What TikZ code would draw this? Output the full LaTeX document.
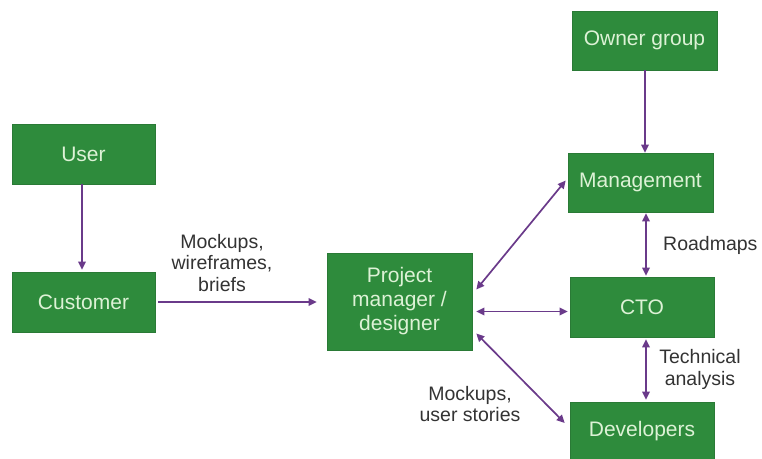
\documentclass[tikz,border=0pt]{standalone}
\usepackage{fontspec}
\setmainfont{Liberation Sans}
\usetikzlibrary{arrows.meta}
\definecolor{boxgreen}{HTML}{2E8B3C}
\definecolor{boxedge}{HTML}{2A7A36}
\definecolor{boxtext}{HTML}{DDF2D6}
\definecolor{arrowpurple}{HTML}{6A3A8A}
\definecolor{labelgrey}{HTML}{333333}
\begin{document}
\begin{tikzpicture}[x=1pt,y=-1pt,
  box/.style={draw=boxedge,line width=0.6pt,fill=boxgreen,text=boxtext,inner sep=0pt,
    align=center,font=\fontsize{21}{24}\selectfont},
  lbl/.style={text=labelgrey,align=center,inner sep=0pt,font=\fontsize{19.5}{21.5}\selectfont},
  arr/.style={draw=arrowpurple,line width=1.7pt,-{Triangle[length=8pt,width=7.5pt]}},
  darr/.style={draw=arrowpurple,line width=1.7pt,{Triangle[length=8pt,width=7.5pt]}-{Triangle[length=8pt,width=7.5pt]}}]
\useasboundingbox (0,0) rectangle (762,458);
\node[box,minimum width=145pt,minimum height=59pt] (owner) at (644.5,40.5) {Owner group};
\node[box,minimum width=143pt,minimum height=60pt] (user) at (83.5,154) {User};
\node[box,minimum width=145pt,minimum height=59pt] (mgmt) at (640.5,182.5) {Management};
\node[box,minimum width=143pt,minimum height=60pt] (cust) at (83.5,302) {Customer};
\node[box,minimum width=145pt,minimum height=97pt] (pm) at (399.5,301.5) {Project\\manager /\\designer};
\node[box,minimum width=144pt,minimum height=60pt] (cto) at (642,307) {CTO};
\node[box,minimum width=144pt,minimum height=58pt] (dev) at (642,431) {Developers};

\node[lbl] (l1) at (222,263) {Mockups,\\wireframes,\\briefs};
\node[lbl,anchor=west] (l2) at (663,245) {Roadmaps};
\node[lbl] (l3) at (700,369.5) {Technical\\analysis};
\node[lbl] (l4) at (470,404) {Mockups,\\user stories};

\draw[arr,shorten >=2pt] ([xshift=-1.5pt]user.south) -- ([xshift=-1.5pt]cust.north);
\draw[arr,shorten <=3pt,shorten >=10pt] (cust.east) -- (cust.east -| pm.west);
\draw[arr] ([xshift=0.5pt]owner.south) -- ([xshift=0.5pt]owner.south |- mgmt.north);
\draw[darr] ([xshift=4pt]pm.east |- {(0,289.5)}) -- ([xshift=-2pt,yshift=2pt]mgmt.west);
\draw[darr] ([xshift=4pt,yshift=-10pt]pm.east) -- ([xshift=-2pt,yshift=-10pt]pm.east -| cto.west);
\draw[darr] ([xshift=4pt,yshift=-32pt]pm.east) -- ([xshift=-5pt,yshift=8pt]dev.west);
\draw[darr,shorten <=1pt,shorten >=1pt] ([xshift=4pt]cto.north |- mgmt.south) -- ([xshift=4pt]cto.north);
\draw[darr,shorten <=2pt,shorten >=2pt] ([xshift=4pt]cto.south) -- ([xshift=4pt]dev.north);
\end{tikzpicture}
\end{document}
